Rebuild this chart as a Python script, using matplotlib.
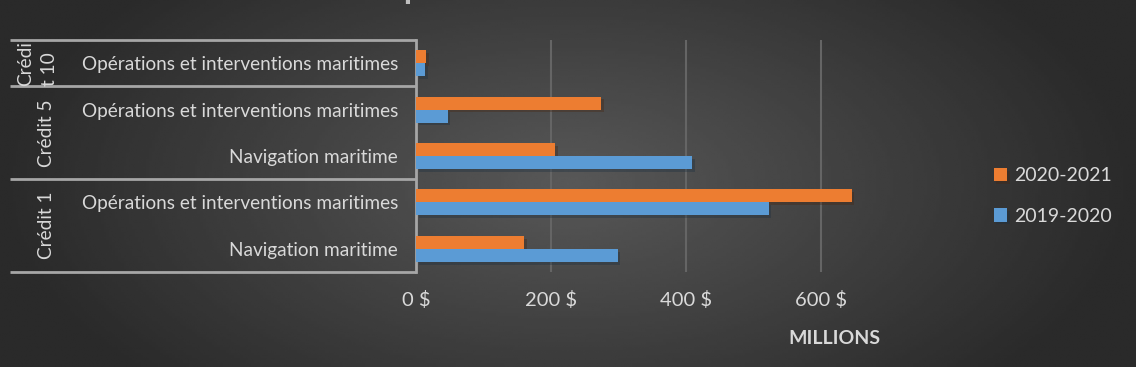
import numpy as np
import matplotlib
matplotlib.use('Agg')
import matplotlib.pyplot as plt
import matplotlib.patheffects as pe

plt.rcParams['font.family'] = ['Lato', 'DejaVu Sans']

# categories from bottom to top
items = ['Navigation maritime', 'Opérations et interventions maritimes',
         'Navigation maritime', 'Opérations et interventions maritimes',
         'Opérations et interventions maritimes']
groups = ['Crédit 1', 'Crédit 5', 'Crédi\nt 10']
group_spans = [(0, 1), (2, 3), (4, 4)]
v2019 = [299, 523, 410, 47, 13]
v2020 = [160, 646, 206, 275, 15]
xticks = [0, 200, 400, 600]
xlabels = ['0 $', '200 $', '400 $', '600 $']

W, H = 1136, 367
fig = plt.figure(figsize=(W / 100, H / 100), dpi=100)

# background radial gradient
bg = fig.add_axes([0, 0, 1, 1], zorder=-10)
xx, yy = np.meshgrid(np.linspace(-1, 1, 400), np.linspace(-1, 1, 140))
r = np.sqrt(xx ** 2 + (yy / 1.6) ** 2)
val = np.clip(0x58 - (0x58 - 0x2a) * r, 0x2a, 0x58) / 255.0
bg.imshow(val, cmap='gray', vmin=0, vmax=1, aspect='auto', interpolation='bilinear')
bg.axis('off')

# title is cut off at the top edge in the original
fig.text(0.5, 1 + 1 / H, 'Responsabilités ministérielles', ha='center', va='baseline',
         fontsize=24, fontweight='bold', color='#bfbfbf')

x0, x1, y0, y1 = 416, 888, 40, 272
ax = fig.add_axes([x0 / W, 1 - y1 / H, (x1 - x0) / W, (y1 - y0) / H])
ax.patch.set_alpha(0)
ax.set_xlim(0, 700)
ax.set_ylim(-0.5, 4.5)

y = np.arange(len(items))
h = 0.28
shadow = [pe.SimplePatchShadow(offset=(2, -2), alpha=0.35), pe.Normal()]
b1 = ax.barh(y + h / 2, v2020, height=h, color='#ED7D31', label='2020-2021', zorder=3)
b2 = ax.barh(y - h / 2, v2019, height=h, color='#5B9BD5', label='2019-2020', zorder=3)
for b in list(b1) + list(b2):
    b.set_path_effects(shadow)

ax.set_xticks(xticks)
ax.set_xticklabels(xlabels)
ax.grid(axis='x', color='#656565', linewidth=1.5, zorder=0)
ax.set_yticks(y)
ax.set_yticklabels(items)
ax.tick_params(axis='y', length=0, pad=13, labelsize=13.7, labelcolor='#d9d9d9')
ax.tick_params(axis='x', length=0, pad=14, labelsize=14.5, labelcolor='#d9d9d9')
for s in ['top', 'right', 'bottom']:
    ax.spines[s].set_visible(False)
ax.spines['left'].set_color('#a6a6a6')
ax.spines['left'].set_linewidth(2)

# multi-level category lines and group labels
tr = ax.get_yaxis_transform()
xl = (10 - x0) / (x1 - x0)
for yl in [-0.5, 1.5, 3.5, 4.5]:
    ax.plot([xl, 0], [yl, yl], transform=tr, color='#a6a6a6', lw=2, clip_on=False,
            solid_capstyle='butt')
for g, (a, b) in zip(groups, group_spans):
    gx = (47 - x0) / (x1 - x0) if '\n' not in g else (38 - x0) / (x1 - x0)
    ax.text(gx, (a + b) / 2, g, transform=tr, rotation=90, ha='center', va='center',
            fontsize=13.7, color='#d9d9d9', linespacing=1.5, multialignment='left')

ax.text((834 - x0) / (x1 - x0), (y1 - 338) / (y1 - y0), 'MILLIONS', transform=ax.transAxes,
        ha='center', va='center', fontsize=14, fontweight='bold', color='#d9d9d9')

fig.legend(handles=[b1, b2], loc='center left', bbox_to_anchor=(976 / W, 1 - 196 / H),
           frameon=False, fontsize=14, labelcolor='#d9d9d9', handlelength=0.7,
           handleheight=0.7, handletextpad=0.35, labelspacing=1.2)

fig.savefig('out.png', dpi=100)
